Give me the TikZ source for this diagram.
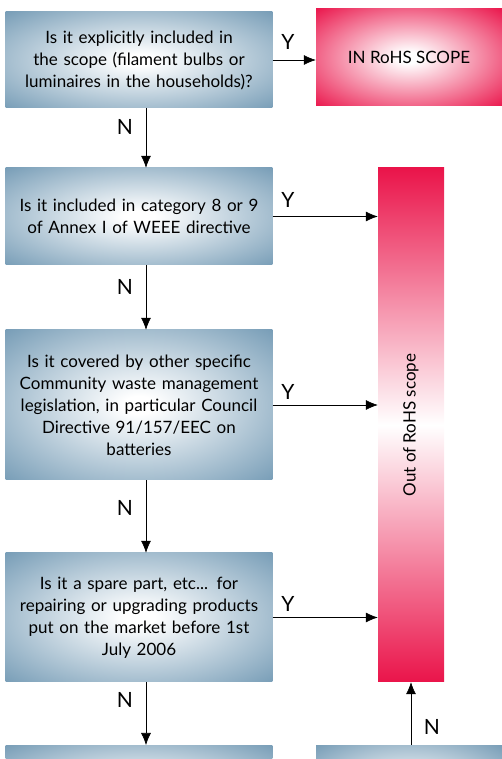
\documentclass[tikz,border=0pt]{standalone}
\usepackage{fontspec}
\setmainfont{Lato}
\usetikzlibrary{arrows.meta}
\definecolor{qblue}{RGB}{118,156,182}
\definecolor{qred}{RGB}{234,20,74}
\pgfdeclareradialshading{blueglow}{\pgfpoint{0bp}{0bp}}{color(0bp)=(white); color(3bp)=(white); color(36bp)=(qblue); color(50bp)=(qblue)}
\pgfdeclareradialshading{redglow}{\pgfpoint{0bp}{0bp}}{color(0bp)=(white); color(3bp)=(white); color(36bp)=(qred); color(50bp)=(qred)}
\tikzset{
  qbox/.style={shading=blueglow, minimum width=266pt, text width=260pt, align=center, font=\fontsize{17}{22}\selectfont},
  redbox/.style={shading=redglow, font=\fontsize{17}{22}\selectfont},
  arr/.style={-{Latex[length=12pt,width=10pt]}, line width=0.6pt},
  yn/.style={font=\fontsize{21}{21}\selectfont}
}
\begin{document}
\begin{tikzpicture}[x=1pt,y=1pt]
    \useasboundingbox (0,0) rectangle (502,759);
    \clip (0,0) rectangle (502,759);
    \node[qbox, minimum height=96pt] (q1) at (139,699) {Is it explicitly included in\\the scope (filament bulbs or\\luminaires in the households)?};
    \node[qbox, minimum height=97pt] (q2) at (139,542.5) {Is it included in category 8 or 9\\of Annex I of WEEE directive};
    \node[qbox, minimum height=150pt] (q3) at (139,354) {Is it covered by other specific\\Community waste management\\legislation, in particular Council\\Directive 91/157/EEC on\\batteries};
    \node[qbox, minimum height=129pt] (q4) at (139,141.5) {Is it a spare part, etc... for\\repairing or upgrading products\\put on the market before 1st\\July 2006};
    \node[qbox, minimum height=90pt, anchor=north] (q5) at (139,14) {};
    \node[redbox, minimum width=186pt, minimum height=97pt] (inscope) at (409,701.5) {IN RoHS SCOPE};
    \node[top color=qred, bottom color=qred, middle color=white, minimum width=66pt, minimum height=514pt] (outscope) at (411,334) {};
    \node[rotate=90, font=\fontsize{17}{22}\selectfont] at (outscope.center) {Out of RoHS scope};
    \node[shading=blueglow, minimum width=186pt, minimum height=90pt, anchor=north] (q6) at (409,14) {};
    % yes branches
    \draw[arr] (q1.east) -- (q1.east -| inscope.west);
    \draw[arr] (q2.east) -- (q2.east -| outscope.west);
    \draw[arr] (q3.east) -- (q3.east -| outscope.west);
    \draw[arr] (q4.east) -- (q4.east -| outscope.west);
    \node[yn] at (288,717) {Y};
    \node[yn] at (288,559) {Y};
    \node[yn] at (288,367) {Y};
    \node[yn] at (288,155) {Y};
    % no branches
    \draw[arr] ([xshift=7pt]q1.south) -- ([xshift=7pt]q2.north);
    \draw[arr] ([xshift=7pt]q2.south) -- ([xshift=7pt]q3.north);
    \draw[arr] ([xshift=7pt]q3.south) -- ([xshift=7pt]q4.north);
    \draw[arr] ([xshift=7pt]q4.south) -- ([xshift=7pt]q5.north);
    \draw[arr] (outscope.south |- q6.north) -- (outscope.south);
    \node[yn] at (125,632) {N};
    \node[yn] at (125,472) {N};
    \node[yn] at (125,251) {N};
    \node[yn] at (125,59) {N};
    \node[yn] at (432,32) {N};
\end{tikzpicture}
\end{document}
